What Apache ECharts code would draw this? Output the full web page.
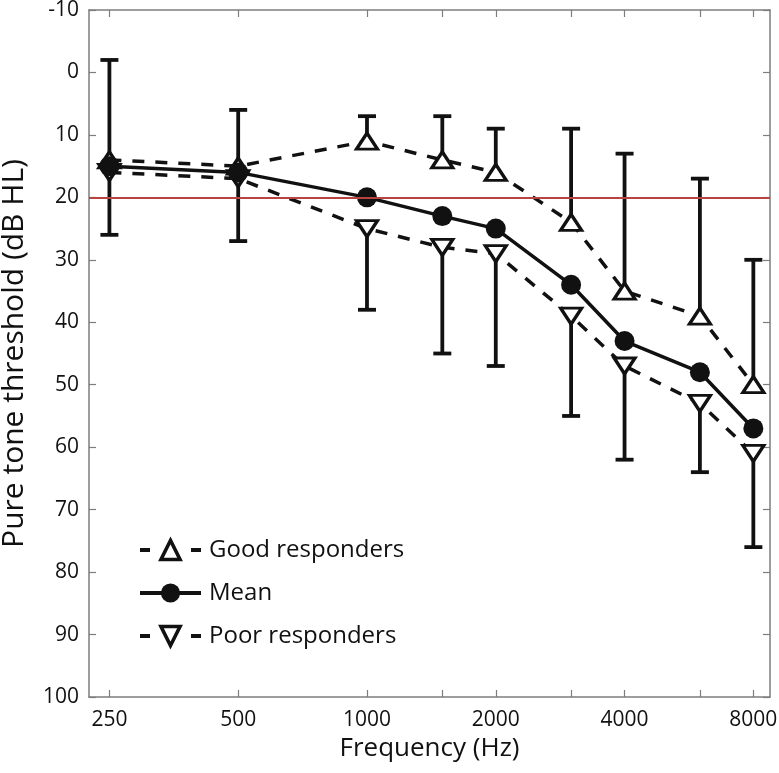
<!DOCTYPE html>
<html><head><meta charset="utf-8">
<script src="https://cdn.jsdelivr.net/npm/echarts@6/dist/echarts.min.js"></script>
<style>html,body{margin:0;padding:0;background:#fff}#chart{width:779px;height:773px}</style>
</head><body><div id="chart"></div>
<script>
// ---- data ----
const frequencies = [250, 500, 1000, 1500, 2000, 3000, 4000, 6000, 8000];
const labeledFrequencies = [250, 500, 1000, 2000, 4000, 8000];
const meanThreshold = [15, 16, 20, 23, 25, 34, 43, 48, 57];
const goodResponders = [14, 15, 11, 14, 16, 24, 35, 39, 50];
const poorResponders = [16, 17, 25, 28, 29, 39, 47, 53, 61];
const goodErrorTop = [-2, 6, 7, 7, 9, 9, 13, 17, 30];
const poorErrorBottom = [26, 27, 38, 45, 47, 55, 62, 64, 76];
const referenceLevel = 20;
const freqAxisMin = 224, freqAxisMax = 8750;
const yMin = -10, yMax = 100, yStep = 10;

// ---- build ----
const lg = f => Math.log2(f);
const pts = vals => frequencies.map((f, i) => [lg(f), vals[i]]);
const errData = frequencies.map((f, i) => [lg(f), goodResponders[i], goodErrorTop[i]])
  .concat(frequencies.map((f, i) => [lg(f), poorResponders[i], poorErrorBottom[i]]));

const FONT = 'Open Sans';
const AX = '#7d7d7d';
const INK = '#111111';
const DASH = [12, 11];

const chart = echarts.init(document.getElementById('chart'), null, {renderer: 'canvas'});
const xBase = {
  type: 'value', min: lg(freqAxisMin), max: lg(freqAxisMax),
  splitLine: {show: false},
  axisLine: {show: true, onZero: false, lineStyle: {color: AX, width: 1.5}},
  axisTick: {show: true, inside: true, length: 7, lineStyle: {color: AX, width: 1.2},
             customValues: frequencies.map(lg)}
};
const yBase = {
  type: 'value', inverse: true, min: yMin, max: yMax, interval: yStep,
  splitLine: {show: false},
  axisLine: {show: true, onZero: false, lineStyle: {color: AX, width: 1.5}},
  axisTick: {show: true, inside: true, length: 7, lineStyle: {color: AX, width: 1.2}}
};

chart.setOption({
  animation: false,
  backgroundColor: '#fff',
  textStyle: {fontFamily: FONT},
  grid: {left: 89, right: 9, top: 10, bottom: 76, containLabel: false, outerBoundsMode: 'none'},
  legend: {
    orient: 'vertical', left: 138, top: 538, padding: 0,
    itemWidth: 61, itemHeight: 24, itemGap: 19,
    data: [
      {name: 'Good responders', lineStyle: {type: [10, 41], width: 4},
       itemStyle: {borderWidth: 3.5}},
      {name: 'Mean', lineStyle: {width: 4}},
      {name: 'Poor responders', lineStyle: {type: [10, 41], width: 4},
       itemStyle: {borderWidth: 3.5}}
    ],
    textStyle: {fontFamily: FONT, fontSize: 24, color: INK, padding: [0, 0, 0, 3]},
    selectedMode: false
  },
  xAxis: [
    Object.assign({}, xBase, {
      position: 'bottom',
      name: 'Frequency (Hz)', nameLocation: 'middle', nameGap: 38,
      nameTextStyle: {fontFamily: FONT, fontSize: 26, color: INK},
      axisLabel: {show: true, margin: 13, fontFamily: FONT, fontSize: 21, color: INK,
                  customValues: labeledFrequencies.map(lg),
                  formatter: v => String(Math.round(Math.pow(2, v)))}
    }),
    Object.assign({}, xBase, {position: 'top', axisLabel: {show: false}})
  ],
  yAxis: [
    Object.assign({}, yBase, {
      position: 'left',
      name: 'Pure tone threshold (dB HL)', nameLocation: 'middle', nameGap: 60,
      nameTextStyle: {fontFamily: FONT, fontSize: 30, color: INK},
      axisLabel: {show: true, margin: 10, fontFamily: FONT, fontSize: 21, color: INK}
    }),
    Object.assign({}, yBase, {position: 'right', axisLabel: {show: false}})
  ],
  series: [
    {
      type: 'custom', name: 'errors', silent: true, z: 1,
      encode: {x: 0, y: [1, 2]},
      data: errData,
      renderItem: function (params, api) {
        const x = api.value(0);
        const p1 = api.coord([x, api.value(1)]);
        const p2 = api.coord([x, api.value(2)]);
        const hw = 9;
        const st = {stroke: INK, lineWidth: 3.8};
        return {type: 'group', children: [
          {type: 'line', shape: {x1: p1[0], y1: p1[1], x2: p2[0], y2: p2[1]}, style: st},
          {type: 'line', shape: {x1: p2[0] - hw, y1: p2[1], x2: p2[0] + hw, y2: p2[1]}, style: st}
        ]};
      }
    },
    {
      type: 'line', name: 'Good responders', data: pts(goodResponders), z: 3,
      lineStyle: {color: INK, width: 3.5, type: DASH},
      symbol: 'triangle', symbolSize: [21, 16],
      itemStyle: {color: '#fff', borderColor: INK, borderWidth: 3.2},
      markLine: {
        silent: true, symbol: 'none', label: {show: false},
        lineStyle: {color: '#b8433f', width: 1.8, type: 'solid'},
        data: [{yAxis: referenceLevel}]
      }
    },
    {
      type: 'line', name: 'Mean', data: pts(meanThreshold), z: 4,
      lineStyle: {color: INK, width: 3.5, type: 'solid'},
      symbol: 'circle', symbolSize: 20,
      itemStyle: {color: INK, borderColor: INK, borderWidth: 0}
    },
    {
      type: 'line', name: 'Poor responders', data: pts(poorResponders), z: 3,
      lineStyle: {color: INK, width: 3.5, type: DASH},
      symbol: 'triangle', symbolRotate: 180, symbolSize: [21, 16],
      itemStyle: {color: '#fff', borderColor: INK, borderWidth: 3.2}
    }
  ]
});
</script></body></html>
